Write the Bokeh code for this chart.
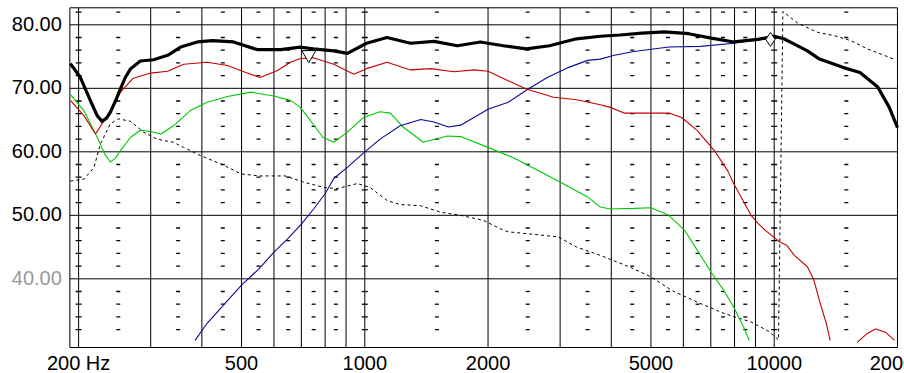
import numpy as np
from bokeh.plotting import figure
from bokeh.core.properties import value
from bokeh.embed import file_html
from bokeh.resources import INLINE

# ---------------- data ----------------
total_freq = [191, 202, 214, 222, 228, 234, 239, 246, 253, 260, 268, 283, 305, 330, 355, 390, 425, 478, 546, 623, 696,
              748, 840, 907, 1010, 1133, 1293, 1476, 1684, 1915, 2180, 2480, 2826, 3290, 3760,
              4200, 4750, 5400, 6180, 7020, 7970, 9120, 10000, 10550, 11170, 12050, 12900,
              14700, 16200, 17900, 19100, 20000]
total_db = [73.9, 71.7, 68.0, 65.7, 64.8, 65.3, 66.2, 68.0, 69.9, 71.7, 73.1, 74.3, 74.5, 75.2, 76.5, 77.3, 77.5, 77.3, 76.1, 76.1, 76.5,
            76.2, 75.9, 75.5, 77.1, 78.0, 77.1, 77.4, 76.7, 77.3, 76.7, 76.2, 76.7, 77.8, 78.2,
            78.4, 78.7, 78.9, 78.6, 77.9, 77.3, 77.7, 78.2, 77.8, 77.0, 75.9, 74.6,
            73.3, 72.5, 70.2, 67.0, 63.8]

red_freq = [191, 206, 220, 235, 253, 272, 300, 330, 361, 412, 462, 516, 555, 612, 658, 696,
            748, 840, 940, 1010, 1133, 1293, 1450, 1650, 1850, 2000, 2240, 2480, 2890, 3290, 3760,
            3980, 4300, 5530, 5940, 6500, 7140, 7700, 7960, 8780, 9140, 9530, 9950, 10320, 10720,
            11200, 12050, 12500, 12890, 13400, 13700, 14600,
            15940, 16800, 17680, 18700, 19670]
red_db = [68.1, 65.7, 62.8, 65.7, 69.4, 71.6, 72.4, 72.7, 73.8, 74.1, 73.6, 72.4, 71.7, 72.8, 74.1, 74.7,
          74.8, 73.8, 72.2, 73.1, 74.1, 72.9, 73.1, 72.6, 72.9, 72.7, 71.2, 69.9, 68.6, 68.2, 67.4,
          67.0, 66.1, 66.1, 65.4, 63.3, 60.2, 57.0, 55.0, 50.0, 48.7, 47.6, 46.6, 45.8, 45.3,
          43.7, 41.9, 39.8, 36.6, 33.0, 30.3, np.nan,
          30.0, 31.3, 32.1, 31.6, 30.3]

green_freq = [191, 206, 222, 232, 239, 246, 253, 268, 283, 300, 318, 341, 375, 412, 462, 526, 599, 658, 696,
              737, 790, 840, 907, 992, 1090, 1155, 1240, 1390, 1590, 1714, 2000, 2300, 2700, 3070,
              3500, 3760, 3980, 4540, 5000, 5530, 6050, 6500, 7020, 7580, 7970, 8420, 8690]
green_db = [69.0, 66.5, 62.3, 59.6, 58.4, 59.0, 60.2, 62.3, 63.4, 63.2, 62.8, 64.1, 66.5, 67.8, 68.7, 69.4, 68.8, 68.1, 67.0,
            64.9, 62.3, 61.5, 63.1, 65.4, 66.3, 66.1, 63.9, 61.5, 62.5, 62.4, 60.7, 59.1, 56.8, 54.9,
            52.9, 51.3, 51.0, 51.1, 51.2, 50.0, 47.6, 44.4, 41.0, 37.9, 35.5, 32.4, 30.3]

blue_freq = [385, 412, 461, 500, 550, 600, 648, 700, 750, 800, 840, 905, 1000, 1090, 1220, 1370,
             1476, 1600, 1714, 2000, 2240, 2480, 2790, 3150, 3500, 3760, 4070, 4540, 5530, 6610,
             7970, 9020, 10160]
blue_db = [30.3, 33.0, 36.5, 39.0, 41.5, 44.2, 46.3, 48.6, 51.0, 53.4, 55.8, 57.5, 60.0, 62.0, 64.1, 65.1,
           64.7, 63.9, 64.2, 66.7, 67.8, 69.7, 71.7, 73.3, 74.4, 74.6, 75.2, 75.8, 76.5, 76.6,
           77.1, 77.6, 77.9]

dashed_freq = [191, 206, 218, 226, 239, 250, 268, 288, 311, 341, 361, 397, 445, 500, 555, 640, 710,
               795, 856, 958, 1030, 1135, 1220, 1370, 1530, 1714, 1950, 2140, 2240, 2590, 2970,
               3290, 3760, 4460, 5000, 5650, 6500, 7580, 8780, 9650, 10000, 10245,
               10500, 11450, 12800, 14000, 15400, 16900, 19600]
dashed_db = [55.4, 55.7, 57.5, 61.2, 64.4, 65.2, 64.8, 63.1, 62.0, 61.5, 60.7, 59.4, 58.1, 56.5, 56.2, 56.2, 55.2,
             54.4, 54.2, 55.0, 54.4, 52.3, 51.7, 51.5, 50.5, 50.0, 49.2, 47.9, 47.4, 47.0, 46.6,
             45.0, 43.7, 41.8, 40.3, 38.1, 36.3, 34.5, 33.2, 31.8, 31.0, 30.4,
             82.1, 80.2, 78.8, 78.3, 77.5, 76.2, 74.6]

tri_freq = [730]
tri_db = [75.3]
diamond_freq = [9790]
diamond_db = [77.7]

x_tick_values = [200, 500, 1000, 2000, 5000, 10000, 20000]
x_tick_labels = ["200 Hz", "500", "1000", "2000", "5000", "10000", "20000"]
y_tick_values = [40, 50, 60, 70, 80]
y_tick_labels = ["40.00", "50.00", "60.00", "70.00", "80.00"]
y_tick_colors = ["#9a9a9a", "black", "black", "black", "black"]

grid_freqs = [200, 300, 400, 500, 600, 700, 800, 900, 1000, 2000, 3000, 4000, 5000,
              6000, 7000, 8000, 9000, 10000]
minor_cols = [250, 350, 450, 550, 650, 750, 850, 1500, 2500, 3500, 4500, 5500, 6500,
              7500, 8500, 15000]
decade_cols = [200, 1000, 10000]
tick_rows = [v for v in range(32, 83, 2) if v % 10]

# plot-area bounds (box) and visible ranges
X_MIN, X_MAX = 190.4, 20000
Y_MIN, Y_MAX = 29.18, 82.68
X_START, X_END = 128.9, 20807
Y_START, Y_END = 25.09, 83.83
XLABEL_Y = 26.82

FONT = "Liberation Sans"

p = figure(width=904, height=373, x_axis_type="log",
           x_range=(X_START, X_END), y_range=(Y_START, Y_END),
           min_border_left=0, min_border_right=0, min_border_top=0, min_border_bottom=0,
           x_axis_location=None, y_axis_location=None,
           toolbar_location=None, output_backend="svg",
           outline_line_color=None, background_fill_color="white", border_fill_color="white")
p.xgrid.visible = False
p.ygrid.visible = False

# grid
ng = len(grid_freqs)
p.segment(x0=grid_freqs, y0=[Y_MIN] * ng, x1=grid_freqs, y1=[Y_MAX] * ng,
          line_color="black", line_width=1)
ny = len(y_tick_values)
p.segment(x0=[X_MIN] * ny, y0=y_tick_values, x1=[X_MAX] * ny, y1=y_tick_values,
          line_color="black", line_width=1)
# frame box
p.segment(x0=[X_MIN, X_MAX, X_MIN, X_MIN], y0=[Y_MIN, Y_MIN, Y_MIN, Y_MAX],
          x1=[X_MIN, X_MAX, X_MAX, X_MAX], y1=[Y_MAX, Y_MAX, Y_MIN, Y_MAX],
          line_color="black", line_width=1)

# minor dash grid
mx = [c for c in minor_cols for r in tick_rows]
my = [r for c in minor_cols for r in tick_rows]
p.scatter(mx, my, marker="dash", size=4, line_color="black", line_width=1.3)
dx = [c for c in decade_cols for r in tick_rows]
dy = [r for c in decade_cols for r in tick_rows]
p.scatter(dx, dy, marker="dash", size=6, line_color="black", line_width=1.3)

# curves
p.line(dashed_freq, dashed_db, line_color="black", line_width=1, line_dash="3 3")
p.line(green_freq, green_db, line_color="#00c800", line_width=1.1)
p.line(blue_freq, blue_db, line_color="#0a0a96", line_width=1.1)
p.line(red_freq, red_db, line_color="#c40000", line_width=1.1)
p.line(total_freq, total_db, line_color="black", line_width=3.2, line_join="round")

p.scatter(tri_freq, tri_db, marker="inverted_triangle", size=14, fill_color="white",
          line_color="black", line_width=1)
p.scatter(diamond_freq, diamond_db, marker="diamond", size=14, fill_color="white",
          line_color="black", line_width=1)

# tick labels
p.text(x=x_tick_values, y=[XLABEL_Y] * len(x_tick_values), text=x_tick_labels,
       text_align="center", text_baseline="middle", text_font=value(FONT),
       text_font_size="20px", text_color="black")
p.text(x=[X_MIN] * ny, y=y_tick_values, text=y_tick_labels, x_offset=-8, y_offset=-1,
       text_align="right", text_baseline="middle", text_font=value(FONT),
       text_font_size="20px", text_color=y_tick_colors)

open("out.html", "w").write(file_html(p, INLINE))
